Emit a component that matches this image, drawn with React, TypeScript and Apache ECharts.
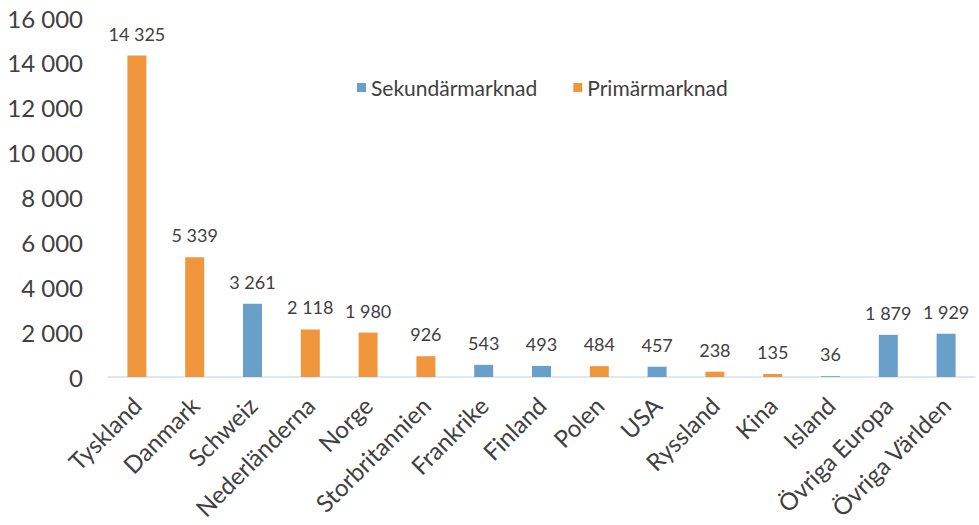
import React, { useEffect, useRef } from "react";
import * as echarts from "echarts";

const categories = [
  "Tyskland", "Danmark", "Schweiz", "Nederländerna", "Norge", "Storbritannien",
  "Frankrike", "Finland", "Polen", "USA", "Ryssland", "Kina", "Island",
  "Övriga Europa", "Övriga Världen",
];
const values = [14325, 5339, 3261, 2118, 1980, 926, 543, 493, 484, 457, 238, 135, 36, 1879, 1929];
// S = Sekundärmarknad, P = Primärmarknad
const marketType = ["P", "P", "S", "P", "P", "P", "S", "S", "P", "S", "P", "P", "S", "S", "S"];
const yTicks = [0, 2000, 4000, 6000, 8000, 10000, 12000, 14000, 16000];

const fmt = (v: number) => String(v).replace(/\B(?=(\d{3})+(?!\d))/g, " ");
const FONT = "Lato, 'Open Sans', sans-serif";

export default function App() {
  const ref = useRef<HTMLDivElement>(null);
  useEffect(() => {
    const chart = echarts.init(ref.current!, undefined, { renderer: "svg" });
    const sek = values.map((v, i) => (marketType[i] === "S" ? v : "-"));
    const pri = values.map((v, i) => (marketType[i] === "P" ? v : "-"));
    const label = {
      show: true,
      position: "top",
      distance: 13,
      color: "#404040",
      fontSize: 18,
      fontFamily: FONT,
      formatter: (p: any) => fmt(p.value),
    };
    chart.setOption({
      animation: false,
      textStyle: { fontFamily: FONT },
      legend: {
        left: 352,
        top: 72,
        itemWidth: 9,
        itemHeight: 9,
        itemGap: 36,
        icon: "rect",
        textStyle: { fontSize: 21, color: "#404040", fontFamily: FONT },
        data: ["Sekundärmarknad", "Primärmarknad"],
      },
      grid: { left: 108, right: 4, top: 18, bottom: 148, containLabel: false },
      xAxis: {
        type: "category",
        data: categories,
        axisLine: { lineStyle: { color: "#D6E0EE", width: 1.5 } },
        axisTick: { show: false },
        axisLabel: {
          rotate: 45,
          interval: 0,
          fontSize: 24,
          color: "#404040",
          margin: 24,
          fontFamily: FONT,
        },
      },
      yAxis: {
        type: "value",
        min: yTicks[0],
        max: yTicks[yTicks.length - 1],
        interval: 2000,
        splitLine: { show: false },
        axisLine: { show: false },
        axisTick: { show: false },
        axisLabel: {
          fontSize: 24,
          color: "#404040",
          margin: 25,
          fontFamily: FONT,
          formatter: (v: number) => fmt(v),
        },
      },
      series: [
        {
          name: "Sekundärmarknad",
          type: "bar",
          stack: "m",
          data: sek,
          barWidth: 19,
          itemStyle: { color: "#6A9FC9" },
          label,
        },
        {
          name: "Primärmarknad",
          type: "bar",
          stack: "m",
          data: pri,
          barWidth: 19,
          itemStyle: { color: "#F0963C" },
          label,
        },
      ],
    });
    return () => chart.dispose();
  }, []);
  return (
    <div
      ref={ref}
      style={{ position: "fixed", left: 0, top: 0, width: 979, height: 525, background: "#fff" }}
    />
  );
}
